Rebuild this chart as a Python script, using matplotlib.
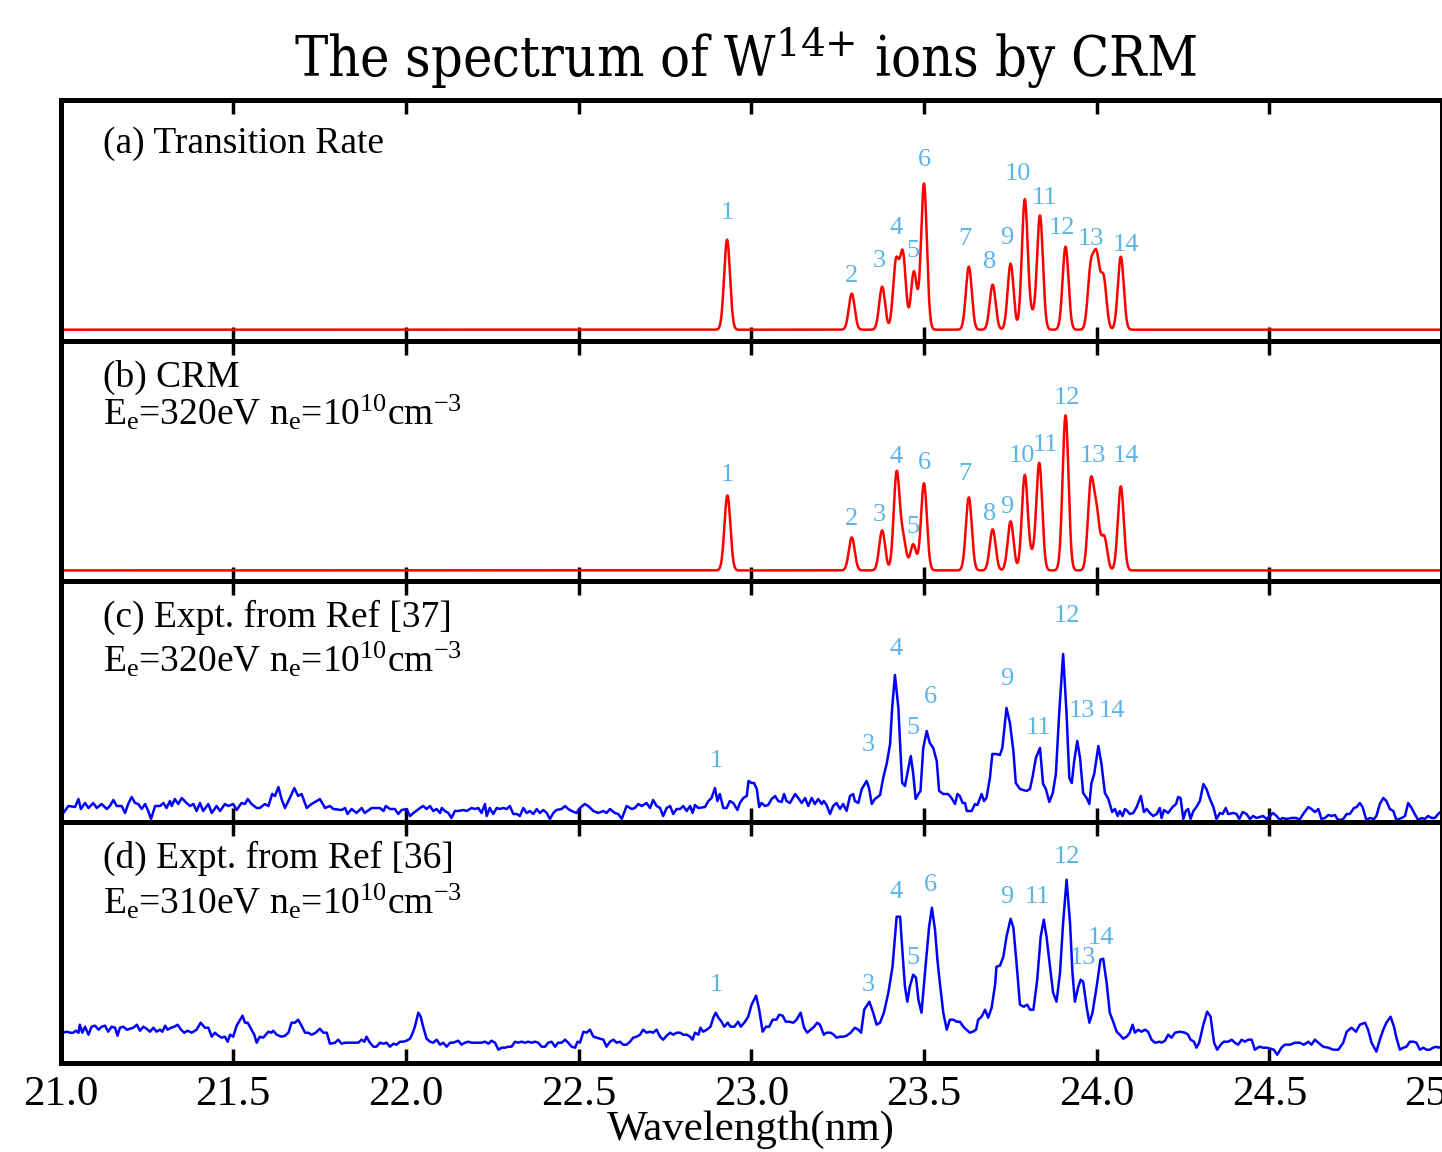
import numpy as np
import matplotlib
matplotlib.use("Agg")
import matplotlib.pyplot as plt

plt.rcParams['font.family'] = ['Liberation Serif', 'DejaVu Serif']
plt.rcParams['mathtext.fontset'] = 'custom'
plt.rcParams['mathtext.rm'] = 'Liberation Serif'
plt.rcParams['mathtext.it'] = 'Liberation Serif:italic'
plt.rcParams['mathtext.bf'] = 'Liberation Serif:bold'

# ---------------- data ----------------
# (a) transition-rate model: line centres (nm) and intensities
lines_a_wl = [22.930, 23.291, 23.379, 23.419, 23.439, 23.471, 23.500, 23.630, 23.699,
              23.751, 23.792, 23.813, 23.836, 23.910, 23.983, 24.000, 24.020, 24.070]
lines_a_int = [90, 36, 43, 67, 75, 58, 146, 63, 45, 66, 130, 12, 114, 83, 60, 68, 51, 73]
# (b) CRM model
lines_b_wl = [22.931, 23.291, 23.379, 23.421, 23.440, 23.469, 23.500, 23.630, 23.699,
              23.751, 23.792, 23.813, 23.834, 23.910, 23.983, 24.000, 24.022, 24.070]
lines_b_int = [75, 33, 40, 97, 30, 26, 87, 73, 41, 49, 95, 12, 107, 155, 85, 54, 33, 84]
line_sigma = 0.0085

# (c) experiment Ref [37]  (wavelength, intensity)
exp_c = [
 (21.008, 9), (21.023, 16), (21.042, 15), (21.052, 23), (21.059, 13), (21.071, 19), (21.081, 14),
 (21.095, 19), (21.105, 14), (21.119, 18), (21.134, 13), (21.143, 16), (21.153, 22), (21.163, 16),
 (21.177, 16), (21.187, 9), (21.196, 18), (21.206, 25), (21.216, 19), (21.225, 18), (21.235, 13),
 (21.245, 18), (21.254, 11), (21.262, 3), (21.274, 16), (21.288, 16), (21.298, 19), (21.307, 14),
 (21.317, 21), (21.322, 16), (21.331, 23), (21.341, 18), (21.351, 24), (21.365, 19), (21.375, 16),
 (21.385, 18), (21.394, 11), (21.404, 19), (21.413, 11), (21.428, 18), (21.438, 9), (21.452, 16),
 (21.462, 11), (21.476, 18), (21.486, 16), (21.500, 18), (21.510, 12), (21.524, 19), (21.534, 18),
 (21.542, 23), (21.553, 18), (21.568, 14), (21.577, 14), (21.592, 18), (21.602, 16), (21.613, 28),
 (21.621, 26), (21.631, 35), (21.640, 23), (21.650, 14), (21.664, 24), (21.677, 34), (21.688, 26),
 (21.698, 28), (21.713, 14), (21.727, 18), (21.742, 21), (21.751, 23), (21.766, 14), (21.780, 16),
 (21.790, 13), (21.814, 12), (21.824, 14), (21.831, 8), (21.843, 13), (21.857, 9), (21.872, 14),
 (21.881, 9), (21.901, 14), (21.925, 14), (21.935, 11), (21.942, 16), (21.954, 13), (21.968, 13),
 (21.978, 8), (21.988, 12), (22.002, 13), (22.012, 6), (22.022, 9), (22.041, 14), (22.050, 16),
 (22.060, 13), (22.070, 16), (22.079, 11), (22.089, 13), (22.099, 9), (22.104, 14), (22.113, 11),
 (22.123, 9), (22.132, 4), (22.142, 11), (22.152, 11), (22.166, 12), (22.176, 11), (22.190, 14),
 (22.200, 13), (22.210, 14), (22.219, 9), (22.229, 18), (22.234, 6), (22.243, 14), (22.253, 8),
 (22.263, 14), (22.272, 13), (22.282, 14), (22.292, 13), (22.301, 16), (22.311, 8), (22.321, 8),
 (22.330, 6), (22.340, 14), (22.350, 9), (22.359, 11), (22.369, 8), (22.379, 13), (22.388, 9),
 (22.398, 12), (22.408, 9), (22.417, 3), (22.427, 9), (22.436, 12), (22.451, 13), (22.461, 16),
 (22.470, 13), (22.480, 11), (22.494, 9), (22.504, 14), (22.518, 18), (22.528, 16), (22.543, 11),
 (22.557, 9), (22.572, 11), (22.581, 9), (22.591, 13), (22.605, 9), (22.615, 8), (22.625, 3),
 (22.639, 16), (22.654, 13), (22.663, 14), (22.673, 18), (22.683, 16), (22.697, 19), (22.707, 14),
 (22.716, 22), (22.726, 16), (22.736, 14), (22.745, 6), (22.755, 14), (22.765, 16), (22.774, 8),
 (22.784, 13), (22.794, 13), (22.803, 16), (22.813, 11), (22.823, 16), (22.830, 9), (22.837, 17),
 (22.847, 14), (22.866, 15), (22.876, 21), (22.885, 24), (22.895, 34), (22.902, 21), (22.909, 28),
 (22.919, 14), (22.929, 14), (22.938, 21), (22.948, 19), (22.960, 12), (22.967, 19), (22.977, 24),
 (22.987, 26), (22.992, 41), (23.001, 39), (23.008, 39), (23.016, 33), (23.023, 15), (23.030, 19),
 (23.040, 16), (23.049, 17), (23.059, 23), (23.069, 26), (23.078, 21), (23.088, 20), (23.095, 28),
 (23.102, 21), (23.112, 19), (23.127, 28), (23.136, 24), (23.146, 19), (23.156, 24), (23.165, 16),
 (23.175, 24), (23.184, 18), (23.194, 23), (23.204, 18), (23.210, 21), (23.218, 17), (23.228, 8),
 (23.237, 16), (23.247, 19), (23.257, 13), (23.266, 18), (23.276, 11), (23.286, 26), (23.295, 28),
 (23.300, 21), (23.310, 19), (23.320, 33), (23.334, 41), (23.341, 34), (23.349, 18), (23.358, 23),
 (23.373, 27), (23.382, 44), (23.392, 58), (23.402, 78), (23.408, 114), (23.416, 147), (23.426, 114),
 (23.432, 71), (23.437, 39), (23.445, 36), (23.455, 54), (23.462, 66), (23.469, 48), (23.476, 23),
 (23.484, 28), (23.490, 31), (23.498, 74), (23.508, 91), (23.517, 79), (23.527, 74), (23.537, 61),
 (23.544, 31), (23.556, 28), (23.570, 28), (23.580, 24), (23.590, 18), (23.597, 28), (23.604, 26),
 (23.612, 19), (23.619, 19), (23.624, 11), (23.638, 11), (23.648, 18), (23.655, 17), (23.667, 28),
 (23.674, 21), (23.681, 24), (23.691, 44), (23.698, 68), (23.710, 68), (23.720, 67), (23.727, 74),
 (23.739, 114), (23.749, 99), (23.759, 71), (23.766, 39), (23.778, 33), (23.797, 31), (23.807, 33),
 (23.815, 46), (23.824, 64), (23.836, 74), (23.845, 38), (23.853, 33), (23.863, 20), (23.873, 29),
 (23.882, 48), (23.892, 111), (23.903, 168), (23.913, 108), (23.921, 44), (23.928, 39), (23.935, 61),
 (23.944, 81), (23.952, 64), (23.961, 29), (23.971, 24), (23.979, 18), (23.985, 39), (23.993, 48),
 (24.005, 76), (24.014, 58), (24.024, 29), (24.034, 23), (24.045, 10), (24.053, 13), (24.061, 6),
 (24.067, 11), (24.075, 6), (24.082, 13), (24.089, 11), (24.096, 8), (24.106, 9), (24.116, 15),
 (24.128, 26), (24.137, 10), (24.145, 13), (24.154, 9), (24.164, 6), (24.174, 8), (24.183, 14),
 (24.188, 4), (24.195, 12), (24.207, 9), (24.220, 15), (24.230, 18), (24.236, 25), (24.243, 24),
 (24.251, 3), (24.258, 11), (24.265, 13), (24.272, 3), (24.280, 11), (24.289, 15), (24.299, 21),
 (24.309, 38), (24.318, 33), (24.328, 23), (24.338, 15), (24.347, 3), (24.357, 9), (24.365, 8),
 (24.374, 14), (24.381, 8), (24.396, 9), (24.405, 8), (24.413, 3), (24.423, 10), (24.434, 8),
 (24.444, 3), (24.453, 6), (24.463, 4), (24.473, 5), (24.482, 6), (24.492, 3), (24.502, 6),
 (24.511, 9), (24.521, 6), (24.531, 2), (24.538, 4), (24.550, 3), (24.564, 4), (24.579, 4),
 (24.587, 2), (24.600, 9), (24.613, 15), (24.622, 13), (24.632, 10), (24.642, 13), (24.651, 3),
 (24.661, 4), (24.671, 7), (24.680, 6), (24.690, 7), (24.697, 3), (24.704, 2), (24.714, 3),
 (24.724, 8), (24.733, 8), (24.745, 14), (24.753, 15), (24.762, 19), (24.770, 15), (24.781, 2),
 (24.791, 4), (24.803, 3), (24.810, 6), (24.820, 18), (24.830, 24), (24.839, 21), (24.849, 13),
 (24.859, 11), (24.868, 2), (24.883, 4), (24.893, 6), (24.902, 19), (24.912, 14), (24.921, 8),
 (24.931, 2), (24.941, 4), (24.950, 3), (24.960, 6), (24.970, 4), (24.979, 4), (24.989, 8),
 (24.999, 11)]

# (d) experiment Ref [36]
exp_d = [
 (21.008, 30), (21.018, 31), (21.028, 30), (21.037, 30), (21.044, 32), (21.052, 30), (21.056, 38),
 (21.063, 30), (21.071, 36), (21.081, 28), (21.090, 36), (21.100, 37), (21.110, 33), (21.119, 36),
 (21.129, 37), (21.138, 31), (21.148, 36), (21.158, 35), (21.165, 27), (21.172, 35), (21.182, 36),
 (21.192, 33), (21.201, 34), (21.211, 35), (21.221, 38), (21.230, 32), (21.240, 36), (21.249, 34),
 (21.259, 31), (21.269, 35), (21.278, 31), (21.288, 33), (21.295, 31), (21.303, 37), (21.310, 33),
 (21.320, 35), (21.330, 36), (21.339, 38), (21.349, 33), (21.358, 30), (21.368, 32), (21.380, 30),
 (21.394, 33), (21.406, 40), (21.418, 35), (21.428, 35), (21.438, 26), (21.447, 30), (21.457, 27),
 (21.467, 25), (21.476, 26), (21.484, 21), (21.491, 28), (21.500, 26), (21.510, 37), (21.520, 43),
 (21.527, 47), (21.534, 40), (21.542, 40), (21.553, 33), (21.561, 28), (21.568, 20), (21.577, 26),
 (21.587, 25), (21.602, 31), (21.611, 30), (21.616, 32), (21.626, 28), (21.640, 26), (21.650, 27),
 (21.660, 30), (21.669, 40), (21.679, 40), (21.688, 43), (21.698, 37), (21.708, 30), (21.717, 30),
 (21.727, 28), (21.739, 30), (21.751, 34), (21.761, 30), (21.771, 30), (21.780, 19), (21.795, 20),
 (21.804, 23), (21.814, 19), (21.824, 20), (21.833, 20), (21.843, 20), (21.853, 20), (21.862, 20),
 (21.872, 23), (21.880, 21), (21.886, 26), (21.896, 20), (21.906, 16), (21.915, 16), (21.925, 20),
 (21.935, 19), (21.944, 20), (21.954, 16), (21.964, 19), (21.973, 18), (21.983, 21), (21.993, 21),
 (22.002, 22), (22.012, 24), (22.020, 30), (22.026, 36), (22.036, 50), (22.043, 46), (22.050, 36),
 (22.060, 24), (22.070, 21), (22.079, 20), (22.089, 23), (22.099, 18), (22.108, 20), (22.118, 16),
 (22.128, 20), (22.137, 20), (22.152, 22), (22.161, 18), (22.171, 20), (22.181, 21), (22.190, 20),
 (22.200, 20), (22.210, 20), (22.219, 20), (22.229, 21), (22.239, 19), (22.248, 22), (22.258, 20),
 (22.268, 13), (22.277, 15), (22.287, 15), (22.297, 16), (22.306, 16), (22.316, 21), (22.325, 20),
 (22.335, 21), (22.345, 20), (22.354, 21), (22.364, 20), (22.374, 21), (22.383, 20), (22.393, 16),
 (22.403, 16), (22.412, 20), (22.422, 21), (22.432, 16), (22.441, 20), (22.451, 20), (22.461, 23),
 (22.470, 20), (22.480, 16), (22.490, 15), (22.497, 21), (22.504, 20), (22.514, 31), (22.523, 30),
 (22.533, 33), (22.543, 26), (22.552, 25), (22.562, 24), (22.572, 23), (22.581, 16), (22.591, 21),
 (22.601, 23), (22.610, 20), (22.620, 21), (22.629, 18), (22.639, 18), (22.649, 21), (22.658, 25),
 (22.668, 26), (22.678, 28), (22.687, 33), (22.697, 30), (22.707, 31), (22.716, 30), (22.726, 33),
 (22.736, 26), (22.745, 23), (22.755, 27), (22.765, 30), (22.774, 28), (22.784, 30), (22.794, 30),
 (22.803, 28), (22.813, 28), (22.823, 26), (22.830, 23), (22.837, 30), (22.847, 28), (22.853, 35),
 (22.861, 31), (22.871, 33), (22.882, 36), (22.890, 45), (22.897, 50), (22.905, 45), (22.914, 41),
 (22.922, 36), (22.932, 40), (22.940, 36), (22.951, 36), (22.962, 41), (22.970, 36), (22.982, 41),
 (22.991, 46), (23.001, 58), (23.014, 67), (23.023, 53), (23.033, 31), (23.043, 36), (23.052, 36),
 (23.062, 43), (23.073, 43), (23.081, 48), (23.091, 47), (23.100, 41), (23.110, 41), (23.122, 40),
 (23.131, 43), (23.143, 50), (23.153, 35), (23.162, 30), (23.172, 33), (23.182, 36), (23.191, 40),
 (23.199, 38), (23.210, 28), (23.218, 30), (23.230, 30), (23.239, 28), (23.247, 25), (23.257, 26),
 (23.267, 26), (23.276, 27), (23.288, 30), (23.300, 35), (23.310, 33), (23.318, 30), (23.327, 53),
 (23.342, 61), (23.353, 50), (23.363, 38), (23.373, 40), (23.384, 50), (23.397, 70), (23.409, 96),
 (23.421, 146), (23.431, 146), (23.438, 110), (23.445, 76), (23.452, 61), (23.459, 76), (23.469, 88),
 (23.477, 85), (23.484, 63), (23.493, 50), (23.503, 90), (23.515, 136), (23.523, 155), (23.532, 133),
 (23.539, 103), (23.546, 80), (23.556, 50), (23.566, 33), (23.575, 43), (23.585, 43), (23.595, 41),
 (23.604, 41), (23.614, 36), (23.623, 33), (23.633, 30), (23.641, 31), (23.651, 33), (23.657, 43),
 (23.667, 46), (23.677, 53), (23.686, 45), (23.696, 55), (23.706, 78), (23.710, 96), (23.720, 97),
 (23.730, 106), (23.739, 126), (23.751, 144), (23.759, 135), (23.768, 100), (23.778, 58), (23.789, 56),
 (23.799, 58), (23.807, 53), (23.817, 53), (23.828, 83), (23.838, 126), (23.847, 143), (23.855, 126),
 (23.865, 96), (23.874, 70), (23.884, 61), (23.894, 90), (23.903, 140), (23.913, 183), (23.923, 140),
 (23.930, 90), (23.937, 61), (23.947, 76), (23.954, 83), (23.961, 81), (23.971, 56), (23.979, 40),
 (23.988, 50), (24.000, 76), (24.011, 103), (24.019, 104), (24.029, 80), (24.038, 50), (24.048, 41),
 (24.058, 31), (24.067, 28), (24.077, 24), (24.087, 26), (24.096, 30), (24.104, 38), (24.111, 30),
 (24.120, 33), (24.130, 31), (24.140, 33), (24.149, 31), (24.159, 23), (24.169, 20), (24.183, 21),
 (24.188, 20), (24.198, 22), (24.207, 28), (24.217, 25), (24.227, 30), (24.241, 31), (24.256, 30),
 (24.265, 28), (24.272, 23), (24.282, 21), (24.289, 15), (24.297, 20), (24.309, 38), (24.320, 51),
 (24.330, 46), (24.340, 20), (24.349, 13), (24.359, 18), (24.368, 21), (24.381, 21), (24.391, 23),
 (24.400, 20), (24.410, 18), (24.420, 23), (24.429, 21), (24.439, 23), (24.449, 23), (24.458, 13),
 (24.471, 16), (24.482, 15), (24.492, 15), (24.504, 14), (24.513, 13), (24.523, 8), (24.535, 15),
 (24.545, 18), (24.560, 18), (24.574, 20), (24.588, 20), (24.600, 18), (24.613, 21), (24.622, 18),
 (24.632, 23), (24.642, 20), (24.656, 16), (24.671, 15), (24.685, 13), (24.700, 13), (24.714, 20),
 (24.724, 31), (24.738, 35), (24.751, 31), (24.762, 38), (24.777, 40), (24.786, 33), (24.796, 20),
 (24.810, 11), (24.820, 23), (24.830, 33), (24.839, 40), (24.851, 46), (24.861, 36), (24.868, 25),
 (24.878, 13), (24.888, 15), (24.897, 16), (24.907, 21), (24.917, 21), (24.926, 20), (24.936, 13),
 (24.946, 15), (24.955, 13), (24.965, 13), (24.974, 15), (24.984, 16), (24.989, 15), (25.000, 16)]

# peak-number labels: (text, wavelength, intensity)
labels_a = [('1', 22.932, 117), ('2', 23.291, 54), ('3', 23.371, 69), ('4', 23.419, 102),
            ('5', 23.469, 79), ('6', 23.501, 170), ('7', 23.619, 91), ('8', 23.691, 68),
            ('9', 23.741, 92), ('10', 23.773, 156), ('11', 23.850, 132), ('12', 23.899, 102),
            ('13', 23.983, 91), ('14', 24.085, 85)]
labels_b = [('1', 22.932, 95), ('2', 23.291, 51), ('3', 23.371, 55), ('4', 23.419, 113),
            ('5', 23.469, 43), ('6', 23.501, 107), ('7', 23.619, 96), ('8', 23.691, 56),
            ('9', 23.741, 63), ('10', 23.783, 114), ('11', 23.853, 125), ('12', 23.913, 172),
            ('13', 23.990, 114), ('14', 24.085, 114)]
labels_c = [('1', 22.900, 61), ('3', 23.339, 77), ('4', 23.419, 173), ('5', 23.469, 94),
            ('6', 23.519, 125), ('9', 23.739, 143), ('11', 23.831, 94), ('12', 23.913, 206),
            ('13', 23.957, 111), ('14', 24.043, 111)]
labels_d = [('1', 22.900, 78), ('3', 23.339, 78), ('4', 23.419, 171), ('5', 23.469, 105),
            ('6', 23.519, 178), ('9', 23.739, 166), ('11', 23.828, 166), ('12', 23.913, 206),
            ('13', 23.961, 105), ('14', 24.012, 125)]

panel_titles = [["(a) Transition Rate"],
                ["(b) CRM", r"E$_\mathrm{e}$=320eV n$_\mathrm{e}$=10$^{10}$cm$^{-3}$"],
                ["(c) Expt. from Ref [37]", r"E$_\mathrm{e}$=320eV n$_\mathrm{e}$=10$^{10}$cm$^{-3}$"],
                ["(d) Expt. from Ref [36]", r"E$_\mathrm{e}$=310eV n$_\mathrm{e}$=10$^{10}$cm$^{-3}$"]]
xticks = [21.0, 21.5, 22.0, 22.5, 23.0, 23.5, 24.0, 24.5, 25.0]
xticklabels = ['21.0', '21.5', '22.0', '22.5', '23.0', '23.5', '24.0', '24.5', '25.0']

# ---------------- figure ----------------
W, H = 1442, 1152
fig = plt.figure(figsize=(W / 100, H / 100), dpi=100)

left = 60.5 / W
width = 1.0 - left
ph = 240.7 / H
tops = [100, 340.7, 581.3, 822]
axes = []
for t in tops:
    ax = fig.add_axes([left, 1 - t / H - ph, width, ph])
    axes.append(ax)

grid = np.linspace(21.0, 25.0, 8001)

def model(wls, ints):
    y = np.zeros_like(grid)
    for w, a in zip(wls, ints):
        y += a * np.exp(-0.5 * ((grid - w) / line_sigma) ** 2)
    return y

lab_color = '#5AB4E5'
red = '#FF0000'
blue = '#0000FF'

axes[0].plot(grid, model(lines_a_wl, lines_a_int), color=red, lw=1.8)
axes[1].plot(grid, model(lines_b_wl, lines_b_int), color=red, lw=1.8)
cw, ci = zip(*exp_c)
dw, di = zip(*exp_d)
axes[2].plot(cw, ci, color=blue, lw=1.8)
axes[3].plot(dw, di, color=blue, lw=1.8)

ylims = [(-11, 229.7), (-11, 229.7), (0, 240.7), (0, 240.7)]
label_sets = [labels_a, labels_b, labels_c, labels_d]
title_pos = [[0.780], [0.808, 0.650], [0.810, 0.625], [0.809, 0.620]]

for i, ax in enumerate(axes):
    ax.set_xlim(21.0, 25.0)
    ax.set_ylim(*ylims[i])
    ax.set_yticks([])
    ax.set_xticks(xticks)
    ax.tick_params(axis='x', direction='in', top=True, bottom=True, length=10,
                   width=2.5, labelsize=31, pad=9)
    if i < 3:
        ax.tick_params(axis='x', labelbottom=False)
    for s in ax.spines.values():
        s.set_linewidth(3.6)
    for txt, wl, h in label_sets[i]:
        ax.text(wl, h, txt, color=lab_color, fontsize=19, ha='center', va='center')
    for line, yp in zip(panel_titles[i], title_pos[i]):
        ax.text(0.031, yp, line, transform=ax.transAxes, fontsize=27,
                ha='left', va='baseline')

axes[3].set_xticklabels(xticklabels)

fig.text(751 / W, 1 - 1130 / H, 'Wavelength(nm)', fontsize=31, ha='center', va='center')
fig.text(745 / W, 1 - 58 / H, r'The spectrum of W$^{14{+}}$ ions by CRM',
         fontsize=40, ha='center', va='center', family='DejaVu Serif',
         fontstretch='condensed', math_fontfamily='dejavuserif')

fig.savefig('out.png', dpi=100)
